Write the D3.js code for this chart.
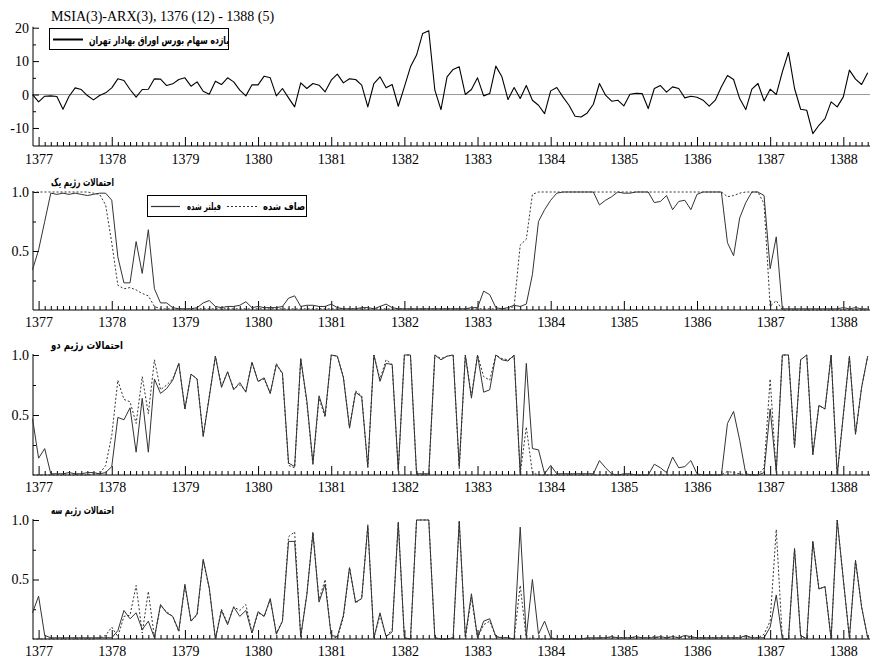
<!DOCTYPE html>
<html>
<head>
<meta charset="utf-8">
<style>
html, body { margin: 0; padding: 0; background: #fff; }
svg { display: block; }
.tick text, .ttl { font-family: 'Liberation Serif', 'DejaVu Serif', 'Times New Roman', Times, serif; fill: #000; }
.tick text { font-size: 14px; }
.ttl { font-size: 14px; }
.tick line { stroke: #000; }
.fa { font-family: 'DejaVu Sans', sans-serif; font-weight: bold; font-size: 10px; fill: #000; }
</style>
</head>
<body>
<script src="https://d3js.org/d3.v7.min.js"></script>
<script>
// monthly sample 1376 (12) .. 1388 (5)
var startYear = 1376
var startMonth = 12
var nMonths = 138
var years = [1377, 1378, 1379, 1380, 1381, 1382, 1383, 1384, 1385, 1386, 1387, 1388]

var titleText = 'MSIA(3)-ARX(3), 1376 (12) - 1388 (5)'
var returnsLabel = 'بازده سهام بورس اوراق بهادار تهران'
var filteredLabel = 'فیلتر شده'
var smoothedLabel = 'صاف شده'
var regimeTitles = ['احتمالات رژیم یک', 'احتمالات رژیم دو', 'احتمالات رژیم سه']

// stock return (%)
var returns = [0,
    -2.2, -0.5, -0.4, -0.6, -4.4, -0.5, 2, 1.5, -0.3, -1.6, -0.3, 0.5,
    2, 4.7, 4.2, 1.5, -0.8, 1.5, 1.6, 4.7, 4.6, 2.7, 3.2, 4.5,
    5, 2.5, 3.8, 1, 0.1, 4, 3, 5, 3.8, 1.3, -0.4, 2.9,
    2.9, 5.5, 5, -0.4, 1.8, -1, -3.7, 3.5, 1.8, 3.3, 2.8, 0.8,
    4.3, 6.1, 3.5, 4.7, 4.5, 2.8, -3.7, 3.3, 5.3, 2, 3, -3.5,
    2.3, 8.3, 11.8, 18.3, 19.1, 1.3, -4.5, 5.3, 7.5, 8.3, 0, 1.5,
    5, -0.4, 0.3, 8.5, 5.3, -1.5, 2.1, -1.2, 2.7, -1.7, -3.2, -5.7,
    1.1, 2.1, -0.7, -3.2, -6.5, -6.7, -5.5, -2.9, 3.3, -0.2, -2, -1.7,
    -3.4, 0.1, 0.4, 0.3, -4.2, 1.8, 2.7, 0.7, 2.3, 1.8, -1, -0.5,
    -0.8, -1.7, -3.5, -1.7, 2.3, 5.7, 4.5, -1.2, -4.5, 1.6, 3.3, -1.9,
    1.6, 0, 6.8, 12.6, 1.8, -4.4, -4.7, -11.7, -9.2, -7.2, -2.2, -3.7,
    -0.7, 7.3, 4.6, 3, 6.5]

// regime 1
var filt1 = [0.34,
    0.51, 0.75, 0.99, 0.98, 0.99, 0.98, 0.99, 0.98, 0.97, 0.98, 0.99, 0.99,
    0.93, 0.45, 0.23, 0.23, 0.58, 0.31, 0.68, 0.18, 0.06, 0.06, 0.02, 0.01,
    0.01, 0.01, 0.02, 0.06, 0.08, 0.03, 0.02, 0.03, 0.03, 0.04, 0.07, 0.02,
    0.03, 0.02, 0.02, 0.02, 0.03, 0.1, 0.12, 0.03, 0.04, 0.04, 0.03, 0.03,
    0.05, 0.02, 0.01, 0.01, 0.01, 0.02, 0.02, 0.01, 0.03, 0.05, 0.02, 0.01,
    0.01, 0.01, 0.01, 0.01, 0.01, 0.01, 0.01, 0.01, 0.01, 0.01, 0.01, 0.02,
    0.02, 0.16, 0.13, 0.02, 0.01, 0.02, 0.04, 0.03, 0.05, 0.3, 0.75, 0.85,
    0.93, 0.99, 1, 1, 1, 1, 1, 1, 0.89, 0.93, 0.96, 1,
    0.99, 0.99, 1, 1, 1, 0.91, 0.92, 0.97, 0.85, 0.92, 0.93, 0.85,
    0.98, 1, 1, 1, 1, 0.57, 0.46, 0.78, 0.91, 1, 1, 0.97,
    0.35, 0.62, 0.01, 0.01, 0.01, 0.01, 0.01, 0.01, 0.01, 0.01, 0.01, 0.01,
    0.02, 0.01, 0.02, 0.01, 0.01]
var smooth1 = [1,
    1, 1, 1, 1, 1, 1, 1, 1, 1, 0.99, 0.98, 0.89,
    0.57, 0.21, 0.18, 0.19, 0.17, 0.14, 0.12, 0.03, 0.01, 0.01, 0.01, 0.01,
    0.01, 0.01, 0.01, 0.01, 0.01, 0.01, 0.01, 0.01, 0.01, 0.01, 0.01, 0.01,
    0.01, 0.01, 0.01, 0.01, 0.01, 0.01, 0.01, 0.01, 0.01, 0.01, 0.01, 0.01,
    0.01, 0.01, 0.01, 0.01, 0.01, 0.01, 0.01, 0.01, 0.01, 0.01, 0.01, 0.01,
    0.01, 0.01, 0.01, 0.01, 0.01, 0.01, 0.01, 0.01, 0.01, 0.01, 0.01, 0.01,
    0.01, 0.01, 0.01, 0.01, 0.01, 0.01, 0.03, 0.55, 0.6, 0.98, 1, 1,
    1, 1, 1, 1, 1, 1, 1, 1, 1, 1, 1, 1,
    1, 1, 1, 1, 1, 1, 1, 1, 1, 1, 1, 1,
    1, 1, 1, 1, 1, 0.96, 0.97, 0.99, 1, 1, 1, 0.9,
    0.03, 0.08, 0, 0, 0, 0, 0, 0, 0, 0, 0, 0,
    0, 0, 0, 0, 0]

// regime 2
var filt2 = [0.47,
    0.14, 0.22, 0.01, 0.01, 0.01, 0.02, 0.01, 0.01, 0.02, 0.02, 0.01, 0.02,
    0.07, 0.48, 0.46, 0.56, 0.19, 0.64, 0.19, 0.8, 0.68, 0.72, 0.79, 0.93,
    0.55, 0.84, 0.8, 0.32, 0.65, 0.99, 0.73, 0.86, 0.71, 0.77, 0.69, 0.94,
    0.78, 0.81, 0.68, 0.92, 0.85, 0.1, 0.07, 0.97, 0.62, 0.1, 0.66, 0.5,
    1, 0.99, 0.81, 0.39, 0.69, 0.65, 0.07, 1, 0.78, 0.93, 0.92, 0.04,
    1, 1, 0.01, 0.01, 0.01, 1, 0.96, 0.99, 1, 0.07, 1, 0.64,
    1, 0.69, 0.71, 1, 0.96, 0.95, 1, 0.01, 0.93, 0.22, 0.21, 0.01,
    0.08, 0.01, 0.01, 0.01, 0.01, 0.01, 0.01, 0.01, 0.12, 0.06, 0.01, 0,
    0.01, 0.01, 0, 0, 0, 0.09, 0.06, 0.02, 0.15, 0.06, 0.07, 0.12,
    0.01, 0, 0, 0, 0, 0.43, 0.53, 0.29, 0.01, 0, 0, 0.02,
    0.55, 0.03, 1, 1, 0.23, 0.96, 1, 0.17, 0.58, 0.55, 1, 0,
    0.5, 0.99, 0.34, 0.73, 0.99]
var smooth2 = [0,
    0, 0, 0, 0, 0, 0, 0, 0, 0, 0.01, 0.01, 0.08,
    0.33, 0.79, 0.63, 0.61, 0.43, 0.82, 0.51, 0.96, 0.71, 0.75, 0.8, 0.93,
    0.55, 0.84, 0.8, 0.33, 0.66, 0.99, 0.74, 0.86, 0.72, 0.75, 0.7, 0.94,
    0.78, 0.8, 0.68, 0.93, 0.84, 0.08, 0.06, 0.97, 0.6, 0.08, 0.64, 0.48,
    1, 0.99, 0.82, 0.4, 0.7, 0.66, 0.06, 1, 0.8, 0.96, 0.92, 0.03,
    1, 1, 0, 0, 0, 1, 0.97, 0.99, 1, 0.05, 1, 0.66,
    1, 0.82, 0.79, 1, 0.97, 0.96, 0.99, 0.01, 0.4, 0.02, 0, 0,
    0, 0, 0, 0, 0, 0, 0, 0, 0, 0, 0, 0,
    0, 0, 0, 0, 0, 0, 0, 0, 0, 0, 0, 0,
    0, 0, 0, 0, 0, 0.03, 0.02, 0.01, 0, 0, 0, 0.06,
    0.8, 0.02, 1, 1, 0.23, 0.96, 1, 0.17, 0.58, 0.55, 1, 0,
    0.5, 0.99, 0.34, 0.73, 0.99]

// regime 3
var filt3 = [0.22,
    0.36, 0.03, 0.01, 0.01, 0.01, 0.01, 0.01, 0.01, 0.01, 0.01, 0.01, 0.01,
    0.01, 0.07, 0.24, 0.17, 0.22, 0.08, 0.15, 0.01, 0.29, 0.22, 0.19, 0.07,
    0.46, 0.15, 0.21, 0.67, 0.43, 0, 0.24, 0.12, 0.27, 0.19, 0.24, 0.05,
    0.23, 0.19, 0.34, 0.04, 0.15, 0.82, 0.82, 0.02, 0.37, 0.89, 0.31, 0.46,
    0.03, 0.02, 0.2, 0.6, 0.31, 0.34, 0.95, 0.01, 0.22, 0.02, 0.06, 0.98,
    0.01, 0, 1, 1, 1, 0.01, 0, 0, 0.01, 0.99, 0.02, 0.38,
    0.01, 0.15, 0.17, 0.02, 0.01, 0.01, 0, 0.94, 0.02, 0.5, 0.04, 0.15,
    0.01, 0, 0, 0, 0, 0, 0.01, 0.01, 0.01, 0.01, 0.02, 0.01,
    0.01, 0.01, 0.02, 0.01, 0.01, 0.01, 0.02, 0.01, 0.02, 0.01, 0.03, 0.02,
    0.01, 0.01, 0.01, 0.01, 0.01, 0.01, 0.01, 0.01, 0.03, 0.01, 0.01, 0.01,
    0.1, 0.37, 0, 0, 0.76, 0.03, 0, 0.82, 0.42, 0.44, 0, 1,
    0.5, 0.01, 0.66, 0.27, 0.01]
var smooth3 = [0,
    0, 0, 0, 0, 0, 0, 0, 0, 0, 0, 0.01, 0.03,
    0.1, 0.02, 0.19, 0.2, 0.45, 0.05, 0.4, 0.01, 0.28, 0.23, 0.19, 0.06,
    0.45, 0.15, 0.2, 0.66, 0.42, 0, 0.25, 0.13, 0.27, 0.24, 0.29, 0.05,
    0.22, 0.19, 0.33, 0.05, 0.15, 0.86, 0.9, 0.02, 0.38, 0.9, 0.33, 0.5,
    0.02, 0.01, 0.18, 0.6, 0.3, 0.34, 0.96, 0.01, 0.2, 0.02, 0.08, 0.98,
    0.01, 0, 1, 1, 1, 0.01, 0, 0, 0.01, 0.99, 0.01, 0.35,
    0.01, 0.12, 0.15, 0.02, 0.01, 0.01, 0, 0.45, 0, 0.01, 0, 0,
    0, 0, 0, 0, 0, 0, 0, 0, 0.01, 0.01, 0.01, 0.01,
    0.01, 0.01, 0.01, 0.01, 0.01, 0.02, 0.01, 0.01, 0.02, 0.01, 0.02, 0.01,
    0.01, 0.01, 0.01, 0.01, 0.01, 0.01, 0.01, 0.01, 0.02, 0.01, 0.01, 0.04,
    0.15, 0.92, 0, 0, 0.76, 0.03, 0, 0.82, 0.42, 0.44, 0, 1,
    0.5, 0.01, 0.66, 0.27, 0.01]

var returnTicks = [-10, 0, 10, 20]
var returnMinor = [-5, 5, 15]
var probTicks = [0.5, 1]
var probMinor = [0.25, 0.75]

var width = 872
var height = 663
var axisLeftX = 33
var axisRightX = 870

var svg = d3.select('body').append('svg')
    .attr('width', width)
    .attr('height', height)

var firstT = startYear + (startMonth - 1) / 12
var lastT = firstT + (nMonths - 1) / 12
var x = d3.scaleLinear().domain([firstT, lastT]).range([32.5, 867.7])
function tAt(i) { return firstT + i / 12 }

var monthT = d3.range(1, nMonths).map(tAt).filter(function (t) {
    return Math.abs(t - Math.round(t)) > 1e-6
})

var panels = [
    { top: 27.7, bottom: 146, domain: [-15.4, 20], major: returnTicks, minor: returnMinor,
      fmt: function (d) { return String(d) }, pad: 8,
      series: [{ values: returns, dash: null, color: '#000', w: 1.1 }] },
    { top: 192, bottom: 310, domain: [0, 1], major: probTicks, minor: probMinor,
      fmt: d3.format('.1f'), pad: 7, title: regimeTitles[0],
      series: [{ values: filt1, dash: null, color: '#333', w: 1 },
               { values: smooth1, dash: '2,2', color: '#333', w: 1 }] },
    { top: 355, bottom: 475, domain: [0, 1], major: probTicks, minor: probMinor,
      fmt: d3.format('.1f'), pad: 7, title: regimeTitles[1],
      series: [{ values: filt2, dash: null, color: '#333', w: 1 },
               { values: smooth2, dash: '2,2', color: '#333', w: 1 }] },
    { top: 520, bottom: 639, domain: [0, 1], major: probTicks, minor: probMinor,
      fmt: d3.format('.1f'), pad: 7, title: regimeTitles[2],
      series: [{ values: filt3, dash: null, color: '#333', w: 1 },
               { values: smooth3, dash: '2,2', color: '#333', w: 1 }] }
]

// Persian labels squeezed to the widths seen in the picture
function faText(sel, px, py, str, len, anchor, size) {
    return sel.append('text')
        .attr('class', 'fa')
        .attr('x', px).attr('y', py)
        .attr('text-anchor', anchor || 'start')
        .attr('textLength', len)
        .attr('lengthAdjust', 'spacingAndGlyphs')
        .style('font-size', (size || 10) + 'px')
        .text(str)
}

panels.forEach(function (p, k) {
    var y = d3.scaleLinear().domain(p.domain).range([p.bottom, p.top])
    var g = svg.append('g')

    if (k === 0) {
        g.append('line')
            .attr('x1', axisLeftX).attr('x2', axisRightX)
            .attr('y1', y(0)).attr('y2', y(0))
            .attr('stroke', '#999').attr('stroke-width', 1)
    }

    // bottom axis: monthly minor ticks, yearly major ticks with labels
    g.append('g')
        .attr('transform', 'translate(0,' + p.bottom + ')')
        .call(d3.axisBottom(x).tickValues(monthT).tickSizeInner(-4).tickSizeOuter(0).tickFormat(''))
        .call(function (a) { a.select('.domain').remove() })
    g.append('g')
        .attr('transform', 'translate(0,' + p.bottom + ')')
        .call(d3.axisBottom(x).tickValues(years).tickSizeInner(-9).tickSizeOuter(0)
            .tickPadding(p.pad).tickFormat(d3.format('d')))
        .call(function (a) { a.select('.domain').remove() })
        .attr('font-family', null).attr('font-size', null)

    // left axis
    g.append('g')
        .attr('transform', 'translate(' + axisLeftX + ',0)')
        .call(d3.axisLeft(y).tickValues(p.minor).tickSizeInner(-3).tickSizeOuter(0).tickFormat(''))
        .call(function (a) { a.select('.domain').remove() })
    g.append('g')
        .attr('transform', 'translate(' + axisLeftX + ',0)')
        .call(d3.axisLeft(y).tickValues(p.major).tickSizeInner(-6).tickSizeOuter(0)
            .tickPadding(4).tickFormat(p.fmt))
        .call(function (a) { a.select('.domain').remove() })
        .attr('font-family', null).attr('font-size', null)

    g.append('line')
        .attr('x1', axisLeftX).attr('x2', axisLeftX)
        .attr('y1', p.top - 1).attr('y2', p.bottom)
        .attr('stroke', '#000')
    g.append('line')
        .attr('x1', axisLeftX).attr('x2', axisRightX)
        .attr('y1', p.bottom).attr('y2', p.bottom)
        .attr('stroke', '#000')

    var line = d3.line()
        .x(function (d, i) { return x(tAt(i)) })
        .y(function (d) { return y(d) })

    // smoothed first so the filtered line sits on top
    p.series.slice().reverse().forEach(function (s) {
        g.append('path')
            .datum(s.values)
            .attr('d', line)
            .attr('fill', 'none')
            .attr('stroke', s.color)
            .attr('stroke-width', s.w)
            .attr('stroke-dasharray', s.dash)
            .attr('stroke-linejoin', 'round')
    })

    if (p.title) faText(g, 51, p.top - 6, p.title, k === 2 ? 72 : 63, 'start', 11)
})

// title
svg.append('text')
    .attr('class', 'ttl')
    .attr('x', 51)
    .attr('y', 21)
    .text(titleText)

// legend, returns panel
var lg1 = svg.append('g')
lg1.append('rect')
    .attr('x', 49.5).attr('y', 28.5).attr('width', 179).attr('height', 21)
    .attr('fill', '#fff').attr('stroke', '#000')
lg1.append('line')
    .attr('x1', 53).attr('x2', 83).attr('y1', 39.5).attr('y2', 39.5)
    .attr('stroke', '#000').attr('stroke-width', 2)
faText(lg1, 229, 43.5, returnsLabel, 140, 'end', 11)

// legend, regime 1 panel
var lg2 = svg.append('g')
lg2.append('rect')
    .attr('x', 147.5).attr('y', 195.5).attr('width', 159).attr('height', 21)
    .attr('fill', '#fff').attr('stroke', '#000')
lg2.append('line')
    .attr('x1', 151).attr('x2', 180).attr('y1', 206.5).attr('y2', 206.5)
    .attr('stroke', '#333').attr('stroke-width', 1.2)
faText(lg2, 221, 210, filteredLabel, 34, 'end', 10)
lg2.append('line')
    .attr('x1', 227).attr('x2', 257).attr('y1', 206.5).attr('y2', 206.5)
    .attr('stroke', '#333').attr('stroke-width', 1.2)
    .attr('stroke-dasharray', '2,2')
faText(lg2, 305, 210, smoothedLabel, 42, 'end', 10)
</script>
</body>
</html>
